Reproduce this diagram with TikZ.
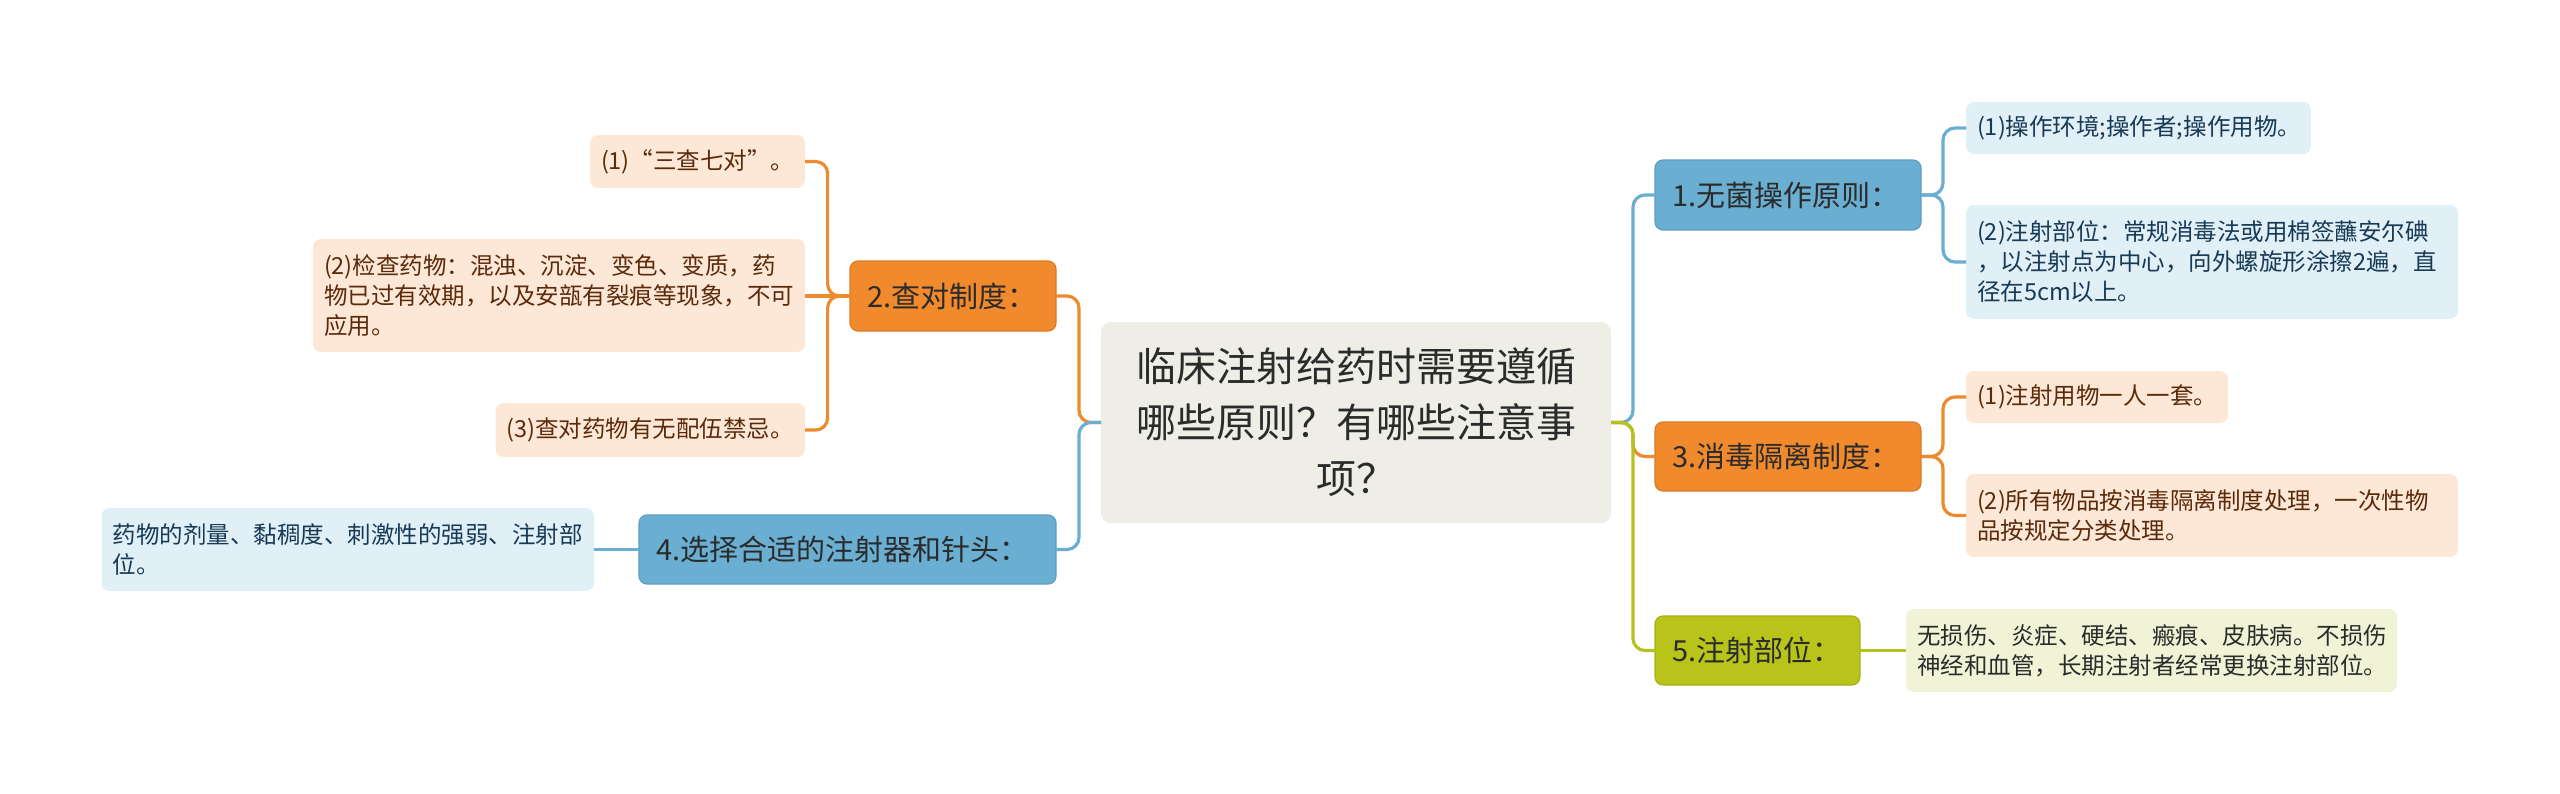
\documentclass[tikz,border=0pt]{standalone}
\usepackage{fontspec}
\setmainfont{Noto Sans CJK SC}
\usetikzlibrary{calc}
\definecolor{oMain}{HTML}{F18A2C}
\definecolor{oLine}{HTML}{EE8A2E}
\definecolor{oLeaf}{HTML}{FDE7D6}
\definecolor{oText}{HTML}{5B2A0B}
\definecolor{bMain}{HTML}{6AAED2}
\definecolor{bLine}{HTML}{6AAED2}
\definecolor{bLeaf}{HTML}{E1EFF7}
\definecolor{bText}{HTML}{173A55}
\definecolor{gMain}{HTML}{B9C41B}
\definecolor{gLine}{HTML}{B5C21D}
\definecolor{gLeaf}{HTML}{F0F3D6}
\definecolor{cFill}{HTML}{EEEEE6}
\definecolor{dText}{HTML}{2B2B2B}
\newcommand\lfnt{\fontsize{23.5pt}{30pt}\selectfont}
\newcommand\nfnt{\fontsize{29pt}{35pt}\selectfont}
\newcommand\cfnt{\fontsize{40pt}{56pt}\selectfont}
\begin{document}
\begin{tikzpicture}[x=1pt,y=-1pt,
  box/.style={rounded corners=8pt, anchor=north west, inner ysep=0pt, outer sep=0pt},
  leafO/.style={box, fill=oLeaf, text=oText, inner xsep=11pt, font=\lfnt, align=left},
  leafB/.style={box, fill=bLeaf, text=bText, inner xsep=11pt, font=\lfnt, align=left},
  leafG/.style={box, fill=gLeaf, text=dText, inner xsep=11pt, font=\lfnt, align=left},
  nodeO/.style={box, fill=oMain, draw=oMain!90!black, line width=1.2pt, text=dText, inner xsep=17pt, font=\nfnt, align=left},
  nodeB/.style={box, fill=bMain, draw=bMain!90!black, line width=1.2pt, text=dText, inner xsep=17pt, font=\nfnt, align=left},
  nodeG/.style={box, fill=gMain, draw=gMain!90!black, line width=1.2pt, text=dText, inner xsep=17pt, font=\nfnt, align=left},
  link/.style={line width=3.2pt, rounded corners=12pt}
]
\useasboundingbox (0,0) rectangle (2560,793);

% centre
\node[box, fill=cFill, text=dText, inner xsep=20pt, text width=470pt, minimum height=201pt, font=\cfnt, align=center, rounded corners=10pt] (C) at (1101,322) {临床注射给药时需要遵循\\哪些原则？有哪些注意事\\项？};

% main branches
\node[nodeO, text width=172pt, minimum height=70pt] (N2) at (850,261) {2.查对制度：};
\node[nodeB, text width=383pt, minimum height=69pt] (N4) at (639,515) {4.选择合适的注射器和针头：};
\node[nodeB, text width=232pt, minimum height=70pt] (N1) at (1655,160) {1.无菌操作原则：};
\node[nodeO, text width=232pt, minimum height=69pt] (N3) at (1655,422) {3.消毒隔离制度：};
\node[nodeG, text width=171pt, minimum height=69pt] (N5) at (1655,616) {5.注射部位：};

% leaves
\node[leafO, text width=193pt, minimum height=53pt] (L21) at (590,135) {(1)“三查七对”。};
\node[leafO, text width=470pt, minimum height=113pt] (L22) at (313,239) {(2)检查药物：混浊、沉淀、变色、变质，药\\物已过有效期，以及安瓿有裂痕等现象，不可\\应用。};
\node[leafO, text width=287.5pt, minimum height=54pt] (L23) at (495.5,403) {(3)查对药物有无配伍禁忌。};
\node[leafB, text width=470.5pt, minimum height=83pt] (L41) at (101.5,508) {药物的剂量、黏稠度、刺激性的强弱、注射部\\位。};
\node[leafB, text width=323pt, minimum height=52pt] (L11) at (1966,102) {(1)操作环境;操作者;操作用物。};
\node[leafB, text width=470pt, minimum height=114pt] (L12) at (1966,205) {(2)注射部位：常规消毒法或用棉签蘸安尔碘\\，以注射点为中心，向外螺旋形涂擦2遍，直\\径在5cm以上。};
\node[leafO, text width=240pt, minimum height=52pt] (L31) at (1966,371) {(1)注射用物一人一套。};
\node[leafO, text width=470pt, minimum height=83pt] (L32) at (1966,474) {(2)所有物品按消毒隔离制度处理，一次性物\\品按规定分类处理。};
\node[leafG, text width=469pt, minimum height=83pt] (L51) at (1906,609) {无损伤、炎症、硬结、瘢痕、皮肤病。不损伤\\神经和血管，长期注射者经常更换注射部位。};

% spines
\coordinate (sL) at (827.6,0);
\coordinate (sC) at (1079,0);
\coordinate (sR) at (1633,0);
\coordinate (sQ) at (1943,0);

% left connectors
\draw[link,oLine] (C.west) -- (C.west -| sC) -- (sC |- N2.east) -- (N2.east);
\draw[link,bLine] (C.west) -- (C.west -| sC) -- (sC |- N4.east) -- (N4.east);
\draw[link,oLine] (N2.west) -- (N2.west -| sL) -- (sL |- L21.east) -- (L21.east);
\draw[link,oLine] (N2.west) -- (N2.west -| L22.east);
\draw[link,oLine] (N2.west) -- (N2.west -| sL) -- (sL |- L23.east) -- (L23.east);
\draw[link,bLine] (N4.west) -- (N4.west -| L41.east);

% right connectors
\draw[link,bLine] (C.east) -- (C.east -| sR) -- (sR |- N1.west) -- (N1.west);
\draw[link,oLine] (C.east) -- (C.east -| sR) -- (sR |- N3.west) -- (N3.west);
\draw[link,gLine] (C.east) -- (C.east -| sR) -- (sR |- N5.west) -- (N5.west);
\draw[link,bLine] (N1.east) -- (N1.east -| sQ) -- (sQ |- L11.west) -- (L11.west);
\draw[link,bLine] (N1.east) -- (N1.east -| sQ) -- (sQ |- L12.west) -- (L12.west);
\draw[link,oLine] (N3.east) -- (N3.east -| sQ) -- (sQ |- L31.west) -- (L31.west);
\draw[link,oLine] (N3.east) -- (N3.east -| sQ) -- (sQ |- L32.west) -- (L32.west);
\draw[link,gLine] (N5.east) -- (N5.east -| L51.west);
\end{tikzpicture}
\end{document}
